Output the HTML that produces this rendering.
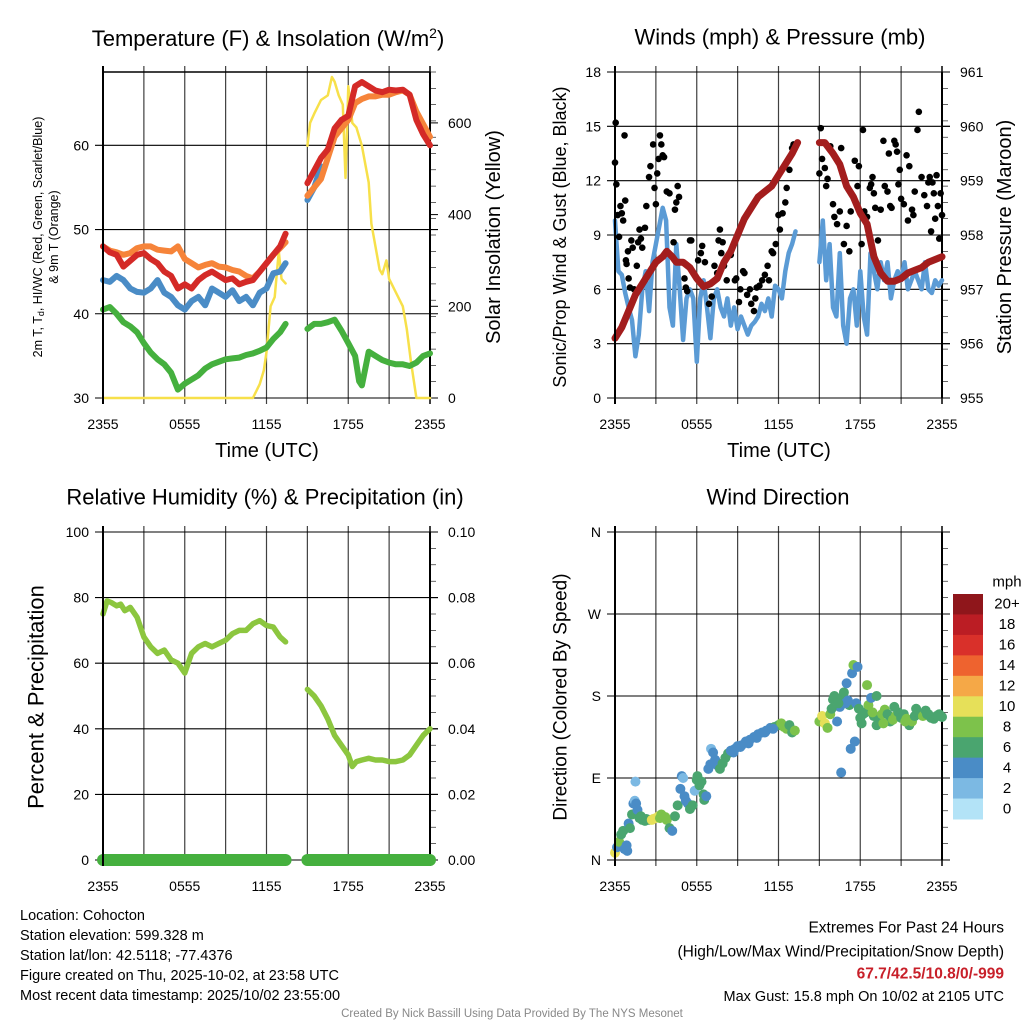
<!DOCTYPE html>
<html><head><meta charset="utf-8"><style>
html,body{margin:0;padding:0;background:#fff;}
svg text{font-family:"Liberation Sans",sans-serif;fill:#000;}
</style></head><body>
<svg id="c" width="1024" height="1024" viewBox="0 0 1024 1024" xmlns="http://www.w3.org/2000/svg"></svg>
<script>
// ---------- DATA ----------
const xTickLabels = ["2355","0555","1155","1755","2355"];
const xTickHours = [0,6,12,18,24];
const tempTicks = [30,40,50,60];
const insolTicks = [0,200,400,600];
const windTicks = [0,3,6,9,12,15,18];
const presTicks = [955,956,957,958,959,960,961];
const rhTicks = [0,20,40,60,80,100];
const precipTicks = ["0.00","0.02","0.04","0.06","0.08","0.10"];
const dirTicks = ["N","E","S","W","N"];

// Temperature (F)
const redH1 = [0,0.5,1,1.5,2,2.5,3,3.5,4,4.5,5,5.5,6,6.5,7,7.5,8,8.5,9,9.5,10,10.5,11,11.5,12,12.5,13,13.4];
const redV1 = [48,47.3,47,45.6,46.3,47,47.2,46.5,46,45,44.5,43,43.5,43,44,44.6,45,44.5,44,44.2,43.5,43.8,44,45,46,47,48,49.5];
const redH2 = [15,15.5,16,16.5,17,17.5,18,18.5,19,19.5,20,20.5,21,21.5,22,22.5,23,23.5,24];
const redV2 = [55.5,57,58.5,59.5,62,63,63.5,67,67.5,67,66.5,66.3,66.6,66.5,66.6,66,63,61.3,60];
const orH1 = [0,0.5,1,1.5,2,2.5,3,3.5,4,4.5,5,5.5,6,6.5,7,7.5,8,8.5,9,9.5,10,10.5,11,11.5,12,12.5,13,13.4];
const orV1 = [48,47.5,47.3,47,47.2,47.8,48,48,47.6,47.5,47.4,48,46.5,46,45.5,45.8,46,45.6,45.5,45.2,45,44.5,44.2,45,46,47,47.8,48.5];
const orH2 = [15,15.5,16,16.5,17,17.5,18,18.5,19,19.5,20,20.5,21,21.5,22,22.5,23,23.5,24];
const orV2 = [54,55,56,58.5,61,62,63,65,65.5,65.8,65.8,66,66,66.3,66.5,66,64,62.5,61];
const blH1 = [0,0.5,1,1.5,2,2.5,3,3.5,4,4.5,5,5.5,6,6.5,7,7.5,8,8.5,9,9.5,10,10.5,11,11.5,12,12.5,13,13.4];
const blV1 = [44,43.8,44.5,44,43,42.6,42.5,43,44,42.5,42,41,40.5,41.5,42,41,43,42.5,42,42.8,41.5,42,41,42.5,43,44.8,45,46];
const blH2 = [15,15.5,16];
const blV2 = [53.5,55,57.5];
const grH1 = [0,0.5,1,1.5,2,2.5,3,3.5,4,4.5,5,5.5,6,6.5,7,7.5,8,8.5,9,9.5,10,10.5,11,11.5,12,12.5,13,13.4];
const grV1 = [40.5,40.8,40,39,38.5,37.8,36.5,35.4,34.6,34,33,31,31.7,32.2,32.7,33.5,34,34.3,34.6,34.7,34.8,35.1,35.3,35.6,36,37,37.8,38.8];
const grH2 = [15,15.5,16,16.5,17,17.5,18,18.5,18.8,19,19.5,20,20.5,21,21.5,22,22.5,23,23.5,24];
const grV2 = [38.2,38.8,38.8,39,39.3,38,36.5,35,32,31.5,35.5,35,34.5,34.2,34,34,33.8,34.2,35,35.3];
// Solar insolation (W/m2)
const inH1 = [0,2,4,6,8,10,11,11.5,11.8,12,12.3,12.6,12.9,13.1,13.4];
const inV1 = [0,0,0,0,0,0,0,30,60,100,200,220,320,260,250];
const inH2 = [15,15.2,15.5,16,16.5,16.8,17,17.3,17.6,17.8,18,18.3,18.6,19,19.5,19.7,20,20.3,20.5,20.8,21,21.5,22,22.3,22.6,23,23.5,24];
const inV2 = [550,600,620,650,660,700,690,660,640,480,680,600,590,550,470,380,330,280,270,300,260,230,200,150,80,0,0,0];

// Winds (mph)
const wsH1 = [0,0.25,0.5,0.75,1,1.25,1.5,1.75,2,2.25,2.5,2.75,3,3.25,3.5,3.75,4,4.25,4.5,4.75,5,5.25,5.5,5.75,6,6.25,6.5,6.75,7,7.25,7.5,7.75,8,8.25,8.5,8.75,9,9.25,9.5,9.75,10,10.25,10.5,10.75,11,11.25,11.5,11.75,12,12.25,12.5,12.75,13,13.25];
const wsV1 = [9.8,7,6.8,5.8,5,4.3,2.3,3.5,6,7,4.8,7.5,8.5,9.5,10.5,9.8,5,4,8.5,6,3.2,5.5,6,5.5,2,5.5,6.5,5,3.3,5.5,6,5,4.5,5.5,4,5,3.8,4.5,4,3.5,4,4.2,4.5,5.2,4.8,5.5,4.5,6.2,6,5.5,7,8,8.5,9.2];
const wsH2 = [15,15.25,15.5,15.75,16,16.25,16.5,16.75,17,17.25,17.5,17.75,18,18.25,18.5,18.75,19,19.25,19.5,19.75,20,20.25,20.5,20.75,21,21.25,21.5,21.75,22,22.25,22.5,22.75,23,23.25,23.5,23.75,24];
const wsV2 = [7.5,9.8,6.5,8.5,5,4.5,8,4,3,5.5,6,4,7,4.5,3.5,8,7,6,7.5,6.5,7.5,5.5,6.5,7,6.5,7.5,6,6.5,7,6.5,6,7.5,6,5.8,6.5,6.2,6.5];
const gustH = [0,0.05,0.1,0.2,0.3,0.4,0.5,0.6,0.7,0.75,0.8,0.85,0.95,1,1.1,1.2,1.3,1.4,1.6,1.7,1.8,1.9,2,2.2,2.3,2.5,2.6,2.8,2.9,3,3.1,3.2,3.3,3.4,3.5,3.6,3.8,4,4.3,4.4,4.5,4.6,4.7,5.1,5.2,5.3,5.5,5.6,6.1,6.3,6.4,6.6,6.9,7.1,7.3,7.5,7.6,7.7,7.8,7.9,8,8.2,8.5,8.8,8.9,9.1,9.2,9.4,9.5,9.7,9.9,10,10.2,10.3,10.4,10.6,10.8,11,11.2,11.3,11.5,11.6,11.8,12,12.1,12.3,12.5,12.6,12.8,13,13.1,15,15.1,15.2,15.4,15.5,15.6,15.8,16,16.1,16.3,16.5,16.6,16.8,17,17.2,17.3,17.6,17.8,17.9,18.1,18.2,18.3,18.5,18.7,18.8,18.9,19,19.1,19.3,19.5,19.7,19.8,20,20.1,20.2,20.3,20.5,20.6,20.7,20.8,20.9,21,21.2,21.4,21.5,21.6,21.8,21.9,22,22.2,22.3,22.5,22.7,22.9,23,23.1,23.2,23.3,23.4,23.5,23.6,23.7,23.8,23.9,24];
const gustV = [13,15.2,11.8,10.1,8.9,10.6,10.2,9.8,14.5,10.9,7.6,7.4,8.1,6.6,6.1,8.7,8.3,6,7.3,8.6,9.3,8.8,8.3,9.4,10.6,12.2,12.8,14,11.6,10.7,12.4,13.2,14.5,14,13.4,13.3,11.4,11.3,8.6,10.4,10.8,11.7,11.1,6.6,6.1,5.9,8.7,8.7,7.6,8,8.4,7.5,5.2,5.6,7.3,6.9,8.7,9.3,8,8.6,7.3,6.5,7.9,6.5,6.6,5.3,6,7,6.9,5.7,6,5.2,4.8,5.5,6.1,6.2,6.5,6.8,7.3,6.5,8.1,8,8.5,10.1,9.3,10.2,10.8,11.6,12.6,13.8,14,12.4,14.9,13.2,12.7,11.7,12.1,13.9,10.7,10,9.6,10.3,13.8,8.5,9.5,8.1,10.3,13.1,11.7,12.8,8.5,14.8,10.3,10,11.6,11.8,12.2,11.3,10.5,8.7,10.4,14.2,11.7,11.4,13.5,10.6,10.5,14.2,14,13.6,11.8,12.6,11,10.7,13.4,9.8,12.8,10.4,10.1,11.4,14.8,15.8,12.2,11.2,10.6,11.9,12.2,9.2,11.9,11.3,9.9,12.3,10.6,8.8,11.3,10.1];
// Pressure (mb)
const prH1 = [0,0.5,1,1.5,2,2.5,3,3.5,3.8,4.2,4.5,5,5.5,6,6.5,7,7.5,8,8.5,9,9.5,10,10.5,11,11.5,12,12.5,13,13.4];
const prV1 = [956.1,956.3,956.6,956.9,957.1,957.3,957.5,957.6,957.7,957.6,957.5,957.5,957.4,957.2,957.05,957.1,957.2,957.5,957.7,958.0,958.3,958.5,958.7,958.8,958.9,959.1,959.3,959.5,959.7];
const prH2 = [15,15.4,16,16.5,17,17.5,18,18.5,19,19.5,20,20.5,21,21.5,22,22.5,23,24];
const prV2 = [959.7,959.7,959.5,959.3,958.9,958.7,958.4,958.2,957.6,957.3,957.15,957.15,957.2,957.3,957.35,957.4,957.5,957.6];
// Relative humidity (%)
const rhH1 = [0,0.3,0.6,1,1.3,1.6,2,2.5,3,3.5,4,4.5,5,5.5,6,6.5,7,7.5,8,8.5,9,9.5,10,10.5,11,11.5,12,12.5,13,13.4];
const rhV1 = [75,79,78.5,77.5,78,76,77,74,68,65,63,64,61,60,57,63,65,66,65,66,67,69,70,70,72,73,71.5,71,68,66.5];
const rhH2 = [15,15.5,16,16.5,17,17.5,18,18.3,18.6,19,19.5,20,20.5,21,21.5,22,22.5,23,23.5,24];
const rhV2 = [52,50,47,43,38,35,32,28.5,30,30.5,31,30.5,30.5,30,30,30.5,32,35,38,40];
const precipSegStart = [0,15];
const precipSegEnd = [13.4,24];
const precipV = [0,0];
// Wind direction scatter
const wdH = [0,0.15,0.3,0.45,0.6,0.7,0.85,0.9,1.0,1.1,1.25,1.35,1.45,1.5,1.55,1.65,1.8,2,2.2,2.5,2.8,3,3.2,3.4,3.6,3.8,4,4.2,4.4,4.6,4.8,4.9,5,5.1,5.2,5.35,5.5,5.7,5.85,6,6.05,6.2,6.35,6.5,6.55,6.7,6.85,7.0,7.05,7.2,7.35,7.5,7.7,7.9,8.1,8.3,8.5,8.8,9.0,9.3,9.6,9.9,10.2,10.5,10.8,11.1,11.4,11.7,12.0,12.2,12.4,12.6,12.8,13.0,13.2,15.0,15.2,15.4,15.6,15.8,16.0,16.1,16.3,16.5,16.6,16.8,17.0,17.2,17.4,17.5,17.7,17.8,17.9,18.0,18.2,18.4,18.6,18.8,19.0,19.2,19.4,19.6,19.8,20.0,20.2,20.4,20.6,20.8,21.0,21.2,21.4,21.6,21.8,22.0,22.2,22.4,22.6,22.8,23.0,23.2,23.4,23.6,23.8,24.0,16.6,17.3,17.6,16.9,18.5,19.2,1.9,2.3,2.7,3.3,3.7,8.7,9.2,9.8,10.4,11.0,11.6,15.9,16.4,17.1,18.1,18.9,19.7,20.5,21.3,22.1,22.9,23.7];
const wdD = [8,14,20,28,32,12,16,10,40,35,50,62,65,86,62,55,46,44,43,44,45,46,48,50,47,44,35,32,48,60,78,92,90,70,65,62,56,60,76,88,92,82,86,72,66,70,100,105,122,118,110,104,100,106,112,117,120,122,125,126,130,132,135,138,140,142,145,146,148,150,146,144,148,140,142,152,158,150,145,160,176,180,152,168,178,184,194,170,205,214,172,212,166,156,160,162,170,178,158,148,154,160,165,160,152,154,158,162,156,160,155,148,152,158,162,160,158,164,160,156,155,158,160,157,96,122,130,172,192,180,48,45,44,46,47,118,124,128,134,140,144,166,172,175,150,162,150,168,152,166,160,158];
const wdS = [10,4,8,6,6,4,4,4,4,6,6,4,2,2,4,4,6,6,6,6,10,10,10,8,8,8,6,4,6,6,4,4,2,4,4,4,6,6,2,6,6,6,6,6,6,4,4,4,2,4,4,4,6,6,6,6,4,4,4,4,4,4,4,4,4,4,4,6,6,8,8,8,6,6,8,8,10,10,8,8,6,6,4,4,6,6,4,6,4,8,4,4,6,6,6,6,8,4,6,6,6,8,8,6,6,8,8,6,6,6,8,6,8,6,6,6,8,6,6,6,6,6,6,6,4,4,4,4,8,6,6,6,10,8,8,4,4,4,4,4,4,6,6,4,6,8,8,6,8,6,6,6];
const cbLabels = ["20+","18","16","14","12","10","8","6","4","2","0"];
const cbColors = ["#8f161b","#bb1d24","#d9302a","#ee632f","#f5a847","#e6e059","#7dc24b","#4aa56f","#4a8cc6","#7cb9e3","#b3e3f7"];

// ---------- DRAW ----------
const NS="http://www.w3.org/2000/svg";
const svg=document.getElementById('c');
function el(tag,attrs,parent){const e=document.createElementNS(NS,tag);for(const k in attrs)e.setAttribute(k,attrs[k]);(parent||svg).appendChild(e);return e;}
function txt(s,x,y,size,anchor,parent,extra){const t=el('text',Object.assign({x:x,y:y,'font-size':size,'text-anchor':anchor||'middle','dominant-baseline':'central'},extra||{}),parent);t.textContent=s;return t;}

const P1={L:103,R:430,T:72,B:398}, P2={L:615,R:942,T:72,B:398}, P3={L:103,R:430,T:532,B:860}, P4={L:615,R:942,T:532,B:860};
function xs(p,h){return p.L+h/24*(p.R-p.L);}
function ys(p,v,lo,hi){return p.B-(v-lo)/(hi-lo)*(p.B-p.T);}

function frame(p,name,yvals,ylo,yhi,ylabels,rvals,rlo,rhi,rlabels){
  const g=el('g',{});
  
  
  for(let h=0;h<=24;h+=3){const x=xs(p,h);const l=el('line',{x1:x,x2:x,y1:p.T-6,y2:p.B+6,stroke:'#000','stroke-width':h==0||h==24?2:1.2,'stroke-opacity':h==0?1:0.75},g);
    }
  yvals.forEach((v,i)=>{const y=ys(p,v,ylo,yhi);const l=el('line',{x1:p.L-8,x2:p.R+8,y1:y,y2:y,stroke:'#000','stroke-width':1.1},g);
    
    const t=txt(ylabels[i],p.L-14,y,14,'end',g);});
  if(rvals){rvals.forEach((v,i)=>{const y=ys(p,v,rlo,rhi);el('line',{x1:p.R,x2:p.R+8,y1:y,y2:y,stroke:'#000','stroke-width':1},g);
    const t=txt(rlabels[i],p.R+18,y,14,'start',g);});}
  for(let k=0;k<=20;k++){const y=p.T+k*(p.B-p.T)/20;el('line',{x1:p.R,x2:p.R+6,y1:y,y2:y,stroke:'#000','stroke-width':0.6},g);}
  el('line',{x1:p.R,x2:p.R,y1:p.T,y2:p.B,stroke:'#000','stroke-width':2},g);
  xTickHours.forEach((h,i)=>{const t=txt(xTickLabels[i],xs(p,h),p.B+26,14,'middle',g);});
  return g;
}
function line(p,H,V,lo,hi,color,w,name){
  const d=H.map((h,i)=>(i?'L':'M')+xs(p,h).toFixed(1)+','+ys(p,V[i],lo,hi).toFixed(1)).join(' ');
  const e=el('path',{d:d,fill:'none',stroke:color,'stroke-width':w,'stroke-linejoin':'round','stroke-linecap':'round'});
  
  
  return e;
}

// Panel 1
frame(P1,'temperature-panel',tempTicks,30,68.7,tempTicks.map(String),insolTicks,0,711,insolTicks.map(String));
line(P1,inH1,inV1,0,711,'#f7e04a',2.5,'insolation-line');
line(P1,inH2,inV2,0,711,'#f7e04a',2.5,'insolation-line');
line(P1,grH1,grV1,30,68.7,'#45b03e',6,'dewpoint-line');
line(P1,grH2,grV2,30,68.7,'#45b03e',6,'dewpoint-line');
line(P1,blH1,blV1,30,68.7,'#4a8cc6',6,'windchill-line');
line(P1,blH2,blV2,30,68.7,'#4a8cc6',6,'windchill-line');
line(P1,orH1,orV1,30,68.7,'#f6843a',6,'temp-9m-line');
line(P1,orH2,orV2,30,68.7,'#f6843a',6,'temp-9m-line');
line(P1,redH1,redV1,30,68.7,'#d42a27',6,'temp-2m-line');
line(P1,redH2,redV2,30,68.7,'#d42a27',6,'temp-2m-line');
el('line',{x1:P1.L,x2:P1.L,y1:P1.T-6,y2:P1.B+6,stroke:'#000','stroke-width':2});
el('line',{x1:P1.L,x2:P1.R,y1:P1.T,y2:P1.T,stroke:'#000','stroke-width':1.5});
let t;
t=el('text',{x:268,y:46,'font-size':22,'text-anchor':'middle'});t.innerHTML='Temperature (F) &amp; Insolation (W/m<tspan dy="-8" font-size="14">2</tspan><tspan dy="8">)</tspan>';

t=txt('2m T, T',0,0,12.5,'middle',null,{transform:'translate(38,237) rotate(-90)'});t.innerHTML='2m T, T<tspan dy="3" font-size="9">d</tspan><tspan dy="-3">, HI/WC (Red, Green, Scarlet/Blue)</tspan>';

t=txt('& 9m T (Orange)',0,0,12.5,'middle',null,{transform:'translate(54,237) rotate(-90)'});
t=txt('Solar Insolation (Yellow)',0,0,20,'middle',null,{transform:'translate(494,237) rotate(-90)'});
t=txt('Time (UTC)',267,451,20);

// Panel 2
frame(P2,'wind-panel',windTicks,0,18,windTicks.map(String),presTicks,955,961,presTicks.map(String));
line(P2,wsH1,wsV1,0,18,'#5b9bd5',4.5,'wind-speed-line');
line(P2,wsH2,wsV2,0,18,'#5b9bd5',4.5,'wind-speed-line');
gustH.forEach((h,i)=>{const c=el('circle',{cx:xs(P2,h),cy:ys(P2,gustV[i],0,18),r:3.3,fill:'#000'});
  
  });
line(P2,prH1,prV1,955,961,'#a31d1d',7,'pressure-line');
line(P2,prH2,prV2,955,961,'#a31d1d',7,'pressure-line');
el('line',{x1:P2.L,x2:P2.L,y1:P2.T-6,y2:P2.B+6,stroke:'#000','stroke-width':2});
t=txt('Winds (mph) & Pressure (mb)',780,37,22);
t=txt('Sonic/Prop Wind & Gust (Blue, Black)',0,0,18,'middle',null,{transform:'translate(560,237) rotate(-90)'});
t=txt('Station Pressure (Maroon)',0,0,20,'middle',null,{transform:'translate(1005,237) rotate(-90)'});
t=txt('Time (UTC)',779,451,20);

// Panel 3
frame(P3,'humidity-panel',rhTicks,0,100,rhTicks.map(String),[0,0.02,0.04,0.06,0.08,0.1],0,0.1,precipTicks);
line(P3,rhH1,rhV1,0,100,'#8cc63f',5.5,'rh-line');
line(P3,rhH2,rhV2,0,100,'#8cc63f',5.5,'rh-line');
precipSegStart.forEach((s,i)=>{line(P3,[s,precipSegEnd[i]],[precipV[i],precipV[i]],0,100,'#45b03e',12,'precip-line');});
el('line',{x1:P3.L,x2:P3.L,y1:P3.T-6,y2:P3.B+6,stroke:'#000','stroke-width':2});
t=txt('Relative Humidity (%) & Precipitation (in)',265,497,22);
t=txt('Percent & Precipitation',0,0,22,'middle',null,{transform:'translate(36,697) rotate(-90)'});

// Panel 4
frame(P4,'direction-panel',[0,90,180,270,360],0,360,dirTicks,null);
function spdColor(s){const idx=Math.min(10,Math.floor(s/2));return cbColors[10-idx];}
wdH.forEach((h,i)=>{const c=el('circle',{cx:xs(P4,h),cy:ys(P4,wdD[i],0,360),r:5,fill:spdColor(wdS[i])});
  
  });
el('line',{x1:P4.L,x2:P4.L,y1:P4.T-6,y2:P4.B+6,stroke:'#000','stroke-width':2});
t=txt('Wind Direction',778,497,22);
t=txt('Direction (Colored By Speed)',0,0,19,'middle',null,{transform:'translate(561,697) rotate(-90)'});
const cbG=el('g',{});
const cbT=594,cbH=(819-594)/11;
cbLabels.forEach((lab,i)=>{el('rect',{x:953,y:cbT+i*cbH,width:30,height:cbH+0.5,fill:cbColors[i]},cbG);
  const tt=txt(lab,1007,cbT+i*cbH+cbH/2,15,'middle',cbG);});
t=txt('mph',1007,582,15,'middle',cbG);

// Footer
const leftLines=["Location: Cohocton","Station elevation: 599.328 m","Station lat/lon: 42.5118; -77.4376","Figure created on Thu, 2025-10-02, at 23:58 UTC","Most recent data timestamp: 2025/10/02 23:55:00"];
leftLines.forEach((s,i)=>{const tt=txt(s,20,916+i*20,14.5,'start');});
t=txt('Extremes For Past 24 Hours',1004,928,15.5,'end');
t=txt('(High/Low/Max Wind/Precipitation/Snow Depth)',1004,952,15.5,'end');
t=txt('67.7/42.5/10.8/0/-999',1004,974,15.5,'end',null,{'font-weight':'bold',style:'fill:#c8202a'});
t=txt('Max Gust: 15.8 mph On 10/02 at 2105 UTC',1004,997,14.5,'end');
t=txt('Created By Nick Bassill Using Data Provided By The NYS Mesonet',512,1014,11.5,'middle',null,{style:'fill:#888'});
</script>
</body></html>
